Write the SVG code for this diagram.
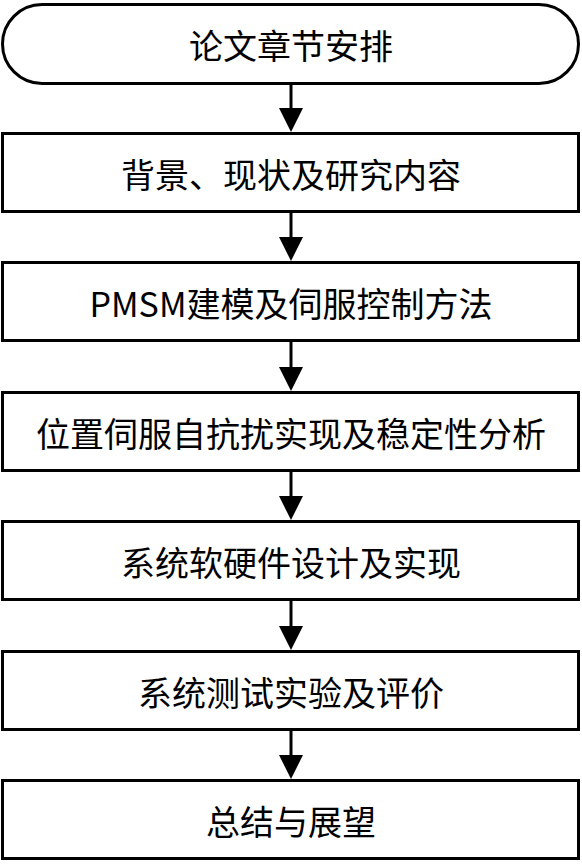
<svg xmlns="http://www.w3.org/2000/svg" width="582" height="864" viewBox="0 0 582 864">
<style>
.b{fill:#fff;stroke:#000;stroke-width:3}
.t{font-family:"Noto Sans CJK SC","Noto Sans",sans-serif;font-size:34px;fill:#000;text-anchor:middle;dominant-baseline:central}
.c{stroke:#000;stroke-width:3;fill:none}
</style>
<defs><marker id="a" markerUnits="userSpaceOnUse" markerWidth="24" markerHeight="26" refX="12" refY="24" orient="auto-start-reverse" viewBox="0 0 24 26"><path d="M0,0 L24,0 L12,24 Z" fill="#000" transform="rotate(0)"/></marker></defs>
<g id="n0"><rect class="b" x="2.5" y="4.5" width="576" height="79" rx="39.5"/><text class="t" x="291" y="44">论文章节安排</text></g>
<g id="n1"><rect class="b" x="2.5" y="133.5" width="576" height="78"/><text class="t" x="291" y="173">背景、现状及研究内容</text></g>
<g id="n2"><rect class="b" x="2.5" y="262.5" width="576" height="78"/><text class="t" x="291" y="302">PMSM建模及伺服控制方法</text></g>
<g id="n3"><rect class="b" x="2.5" y="392.5" width="576" height="78"/><text class="t" x="291" y="432">位置伺服自抗扰实现及稳定性分析</text></g>
<g id="n4"><rect class="b" x="2.5" y="521.5" width="576" height="78"/><text class="t" x="291" y="561">系统软硬件设计及实现</text></g>
<g id="n5"><rect class="b" x="2.5" y="651.5" width="576" height="78"/><text class="t" x="291" y="691">系统测试实验及评价</text></g>
<g id="n6"><rect class="b" x="2.5" y="780.5" width="576" height="78"/><text class="t" x="291" y="820">总结与展望</text></g>
<g id="connectors">
<path d="M0,0" fill="none"/>
<g fill="#000">
<line class="c" x1="291" y1="84" x2="291" y2="110"/><path d="M279,108 L303,108 L291,132 Z"/>
<line class="c" x1="291" y1="213" x2="291" y2="239"/><path d="M279,237 L303,237 L291,261 Z"/>
<line class="c" x1="291" y1="342" x2="291" y2="369"/><path d="M279,367 L303,367 L291,391 Z"/>
<line class="c" x1="291" y1="472" x2="291" y2="498"/><path d="M279,496 L303,496 L291,520 Z"/>
<line class="c" x1="291" y1="601" x2="291" y2="628"/><path d="M279,626 L303,626 L291,650 Z"/>
<line class="c" x1="291" y1="731" x2="291" y2="757"/><path d="M279,755 L303,755 L291,779 Z"/>
</g>
</g>
</svg>
